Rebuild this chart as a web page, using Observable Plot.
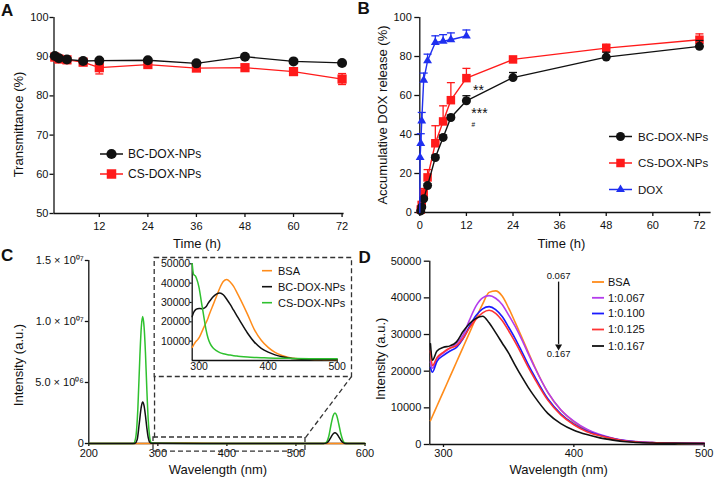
<!DOCTYPE html>
<html><head><meta charset="utf-8">
<script src="https://cdn.jsdelivr.net/npm/d3@7"></script>
<script src="https://cdn.jsdelivr.net/npm/@observablehq/plot@0.6"></script>
<style>
body{margin:0;background:#fff;}
#fig{position:relative;width:714px;height:483px;overflow:hidden;font-family:"Liberation Sans",Arial,Helvetica,sans-serif;color:#111;background:#fff;}
.panel{position:absolute;}
.panel svg{overflow:visible;}
.letter{position:absolute;font-weight:bold;font-size:17px;line-height:1;}
</style></head><body><div id="fig"></div>
<script>
// ---------- Panel A: transmittance ----------
const aTime = [1, 2, 4, 8, 12, 24, 36, 48, 60, 72];
const aBC = [90.2, 89.6, 89.3, 88.9, 89.0, 89.1, 88.3, 90.0, 88.8, 88.4];
const aBCerr = [0.3, 0.3, 0.3, 0.4, 0.4, 0.3, 0.4, 0.4, 0.4, 0.4];
const aCS = [89.9, 89.4, 89.2, 88.6, 87.2, 88.0, 87.1, 87.2, 86.2, 84.3];
const aCSerr = [0.5, 0.4, 0.4, 0.5, 1.6, 0.6, 0.5, 0.8, 0.9, 1.4];
const aYTicks = [50, 60, 70, 80, 90, 100];
const aXTicks = [12, 24, 36, 48, 60, 72];
const aLegend = ["BC-DOX-NPs", "CS-DOX-NPs"];

// ---------- Panel B: DOX release ----------
const bTime = [0.25, 0.5, 1, 2, 4, 6, 8, 12, 24, 48, 72];
const bBC = [0.8, 2.8, 7.0, 13.8, 28.2, 38.5, 48.7, 57.3, 69.2, 79.7, 85.2];
const bBCerr = [0.3, 0.5, 0.8, 1.0, 1.2, 1.2, 1.2, 2.6, 2.6, 2.5, 3.0];
const bCS = [1.5, 3.9, 9.8, 18.0, 35.5, 46.7, 57.6, 68.9, 78.5, 84.3, 88.6];
const bCSerr = [0.8, 1.5, 2.5, 4.0, 9.0, 8.0, 9.0, 5.0, 1.0, 2.0, 3.0];
const bDoxTime = [0, 0.083, 0.25, 0.5, 1, 2, 4, 6, 8, 12];
const bDox = [0, 28.2, 35.4, 47.0, 67.9, 77.8, 87.2, 87.8, 88.6, 90.5];
const bDoxErr = [0, 0, 5.0, 4.3, 3.6, 3.4, 3.4, 3.4, 3.5, 3.1];
const bYTicks = [0, 20, 40, 60, 80, 100];
const bXTicks = [0, 12, 24, 36, 48, 60, 72];
const bLegend = ["BC-DOX-NPs", "CS-DOX-NPs", "DOX"];
const bSigLabels = ["**", "***", "#"];

// ---------- Panel C: full spectra ----------
const cGreenWl = [200, 262, 265, 268, 271, 274, 276, 278, 280, 282, 284, 286, 288, 290, 293, 300, 400, 535, 540, 544, 548, 551, 554, 556.5, 559, 562, 565, 568, 571, 575, 600];
const cGreen = [0, 0, 0.02e6, 0.5e6, 2.8e6, 7.2e6, 9.5e6, 10.4e6, 9.6e6, 7.5e6, 4.5e6, 2.0e6, 0.6e6, 0.1e6, 0.04e6, 0.03e6, 0.002e6, 0.002e6, 0.005e6, 0.1e6, 0.7e6, 1.6e6, 2.3e6, 2.5e6, 2.3e6, 1.6e6, 0.8e6, 0.25e6, 0.04e6, 0, 0];
const cBlackWl = [200, 264, 267, 270, 273, 276, 278, 280, 282, 284, 286, 288, 290, 300, 400, 540, 544, 548, 551, 554, 556.5, 559, 562, 565, 568, 571, 575, 600];
const cBlack = [0, 0, 0.02e6, 0.3e6, 1.6e6, 3.0e6, 3.4e6, 3.1e6, 2.3e6, 1.3e6, 0.5e6, 0.12e6, 0.03e6, 0.027e6, 0.004e6, 0.001e6, 0.03e6, 0.25e6, 0.55e6, 0.8e6, 0.88e6, 0.8e6, 0.55e6, 0.27e6, 0.08e6, 0.01e6, 0, 0];
const cOrangeWl = [200, 280, 340, 400, 560, 600];
const cOrange = [0, 0.005e6, 0.04e6, 0.006e6, 0.002e6, 0];
const cYTicks = [0, 5e6, 1e7, 1.5e7];
const cYTickLabels = ["0", "5.0 × 10⁰⁶", "1.0 × 10⁰⁷", "1.5 × 10⁰⁷"];
const cXTicks = [200, 300, 400, 500, 600];
// zoomed region marker (nm, a.u.) and the corners of the inset it maps to
const cZoomBox = [{x1: 293.7, x2: 513.8, y1: -6.6e5, y2: 4.9e5}];
const cConnectors = [
  {x1: 295.2, y1: 4.9e5, x2: 295.2, y2: 5.49e6},
  {x1: 513.8, y1: 4.9e5, x2: 580.4, y2: 5.49e6}
];

// ---------- Panel C inset ----------
const iWl = [290, 292, 295, 298, 300, 303, 306, 310, 313, 316, 320, 325, 330, 335, 340, 345, 350, 355, 360, 370, 380, 390, 400, 410, 420, 430, 440, 460, 480, 500];
const iBSA = [6800, 8000, 9700, 10800, 11800, 14000, 16500, 19500, 22000, 25000, 28500, 33000, 37500, 40800, 41900, 40600, 38300, 35000, 31500, 24000, 16000, 10500, 6800, 4200, 2600, 1600, 1000, 600, 450, 400];
const iBC = [22700, 24800, 26300, 26800, 26900, 26800, 26900, 27800, 29500, 31000, 32800, 34300, 34900, 34000, 31700, 29000, 26000, 23000, 20000, 14200, 9500, 6300, 4300, 2900, 1900, 1300, 900, 550, 450, 400];
const iCS = [50000, 44500, 43500, 40500, 37500, 31000, 24500, 16000, 11500, 8700, 6600, 5100, 4100, 3500, 3100, 2800, 2500, 2300, 2100, 1800, 1600, 1450, 1300, 1200, 1150, 1100, 1050, 950, 900, 850];
const iYTicks = [10000, 20000, 30000, 40000, 50000];
const iXTicks = [300, 400, 500];
const iLegend = ["BSA", "BC-DOX-NPs", "CS-DOX-NPs"];

// ---------- Panel D: titration spectra ----------
const dWl = [290, 291.5, 295, 300, 305, 310, 315, 320, 325, 330, 335, 340, 345, 350, 355, 360, 365, 370, 380, 390, 400, 410, 420, 430, 440, 460, 480, 500];
const dBSA = [6500, 7700, 10500, 14500, 18500, 22500, 26500, 30500, 34500, 38300, 41500, 41900, 40500, 37200, 33300, 29300, 25200, 21200, 14200, 9400, 6200, 4000, 2500, 1500, 900, 450, 320, 280];
const d067 = [22500, 20800, 23300, 25000, 26300, 27500, 29800, 34000, 37800, 40000, 40600, 39900, 38200, 35300, 32200, 28700, 24800, 21000, 14300, 9500, 6400, 4200, 2700, 1700, 1050, 520, 360, 300];
const d100 = [21000, 19700, 22700, 24300, 25500, 26500, 28800, 32300, 35200, 37000, 37600, 36800, 34900, 32000, 28900, 25400, 21800, 18500, 12500, 8400, 5600, 3700, 2500, 1600, 1000, 500, 350, 300];
const d125 = [25500, 21500, 23700, 25200, 26300, 27000, 29000, 31800, 34200, 35900, 36600, 35800, 33800, 31000, 27900, 24600, 21100, 17900, 12100, 8100, 5400, 3500, 2400, 1600, 950, 500, 350, 300];
const d167 = [27500, 23000, 25500, 26500, 26900, 28000, 30800, 33000, 34400, 35000, 33200, 30500, 27700, 24900, 21600, 18500, 15600, 13000, 8500, 5700, 3900, 2700, 1800, 1200, 750, 400, 300, 280];
const dYTicks = [0, 10000, 20000, 30000, 40000, 50000];
const dXTicks = [300, 400, 500];
const dLegend = ["BSA", "1:0.067", "1:0.100", "1:0.125", "1:0.167"];
const dArrow = [{x: 388.3, from: 44300, to: 27300}];
const dArrowLabels = ["0.067", "0.167"];

// ---------- styling ----------
const FONT = '"Liberation Sans", Arial, Helvetica, sans-serif';
const INK = "#111";
const RED = "#ff1a1a";
const BLUE = "#1f2ff0";
const ORANGE = "#ff8c1a";
const GREEN = "#2fc12f";
const PURPLE = "#b43cec";
const DRED = "#ff3333";
const DBLUE = "#1a1aff";
const baseStyle = {fontFamily: FONT, fontSize: "11px", color: INK, background: "transparent", overflow: "visible"};
const fig = document.getElementById("fig");
function place(node, left, top) {
  const d = document.createElement("div");
  d.className = "panel"; d.style.left = left + "px"; d.style.top = top + "px";
  d.appendChild(node); fig.appendChild(d);
}
const capSym = w => ({draw(ctx) { ctx.moveTo(-w / 2, 0); ctx.lineTo(w / 2, 0); }});
const rows = (t, v, e) => t.map((x, i) => ({t: x, v: v[i], e: e ? e[i] : 0}));
const spec = (w, v) => w.map((x, i) => ({w: x, v: v[i]}));
const xTitle = (s, dy, dx) => Plot.text([s], {text: d => d, frameAnchor: "bottom", textAnchor: "middle", lineAnchor: "middle", dy, dx, fontSize: 13});
const yTitle = (s, dx, dy) => Plot.text([s], {text: d => d, frameAnchor: "left", textAnchor: "middle", lineAnchor: "middle", dx, dy, rotate: -90, fontSize: 13});

// ---------- A ----------
const aBCRows = rows(aTime, aBC, aBCerr), aCSRows = rows(aTime, aCS, aCSerr);
place(Plot.plot({
  width: 357, height: 240, marginLeft: 53.5, marginRight: 13.4, marginTop: 17, marginBottom: 27,
  x: {domain: [0.8, 72.5]}, y: {domain: [50, 100]}, style: baseStyle,
  marks: [
    Plot.ruleX([0.8], {stroke: INK, strokeWidth: 1.3}),
    Plot.ruleY([50], {stroke: INK, strokeWidth: 1.3}),
    Plot.axisY({ticks: aYTicks, tickSize: 4, tickPadding: 1.5, strokeWidth: 1.3, label: null, fontSize: 11}),
    Plot.axisX({ticks: aXTicks, tickSize: 4, tickPadding: 5, strokeWidth: 1.3, label: null, fontSize: 11}),
    Plot.line(aCSRows, {x: "t", y: "v", stroke: RED, strokeWidth: 1.3}),
    Plot.ruleX(aCSRows, {x: "t", y1: d => d.v - d.e, y2: d => d.v + d.e, stroke: RED, strokeWidth: 1.3}),
    Plot.dot(aCSRows, {x: "t", y: d => d.v - d.e, symbol: capSym(8), stroke: RED, strokeWidth: 1.3}),
    Plot.dot(aCSRows, {x: "t", y: d => d.v + d.e, symbol: capSym(8), stroke: RED, strokeWidth: 1.3}),
    Plot.dot(aCSRows, {x: "t", y: "v", symbol: "square", r: 5.2, fill: RED}),
    Plot.line(aBCRows, {x: "t", y: "v", stroke: INK, strokeWidth: 1.3}),
    Plot.dot(aBCRows, {x: "t", y: "v", r: 5, fill: INK}),
    xTitle("Time (h)", 30, -2),
    yTitle("Transmittance (%)", -35.5, 9)
  ]
}), 0, 0);

// ---------- B ----------
const bBCRows = rows(bTime, bBC, bBCerr), bCSRows = rows(bTime, bCS, bCSerr), bDoxRows = rows(bDoxTime, bDox, bDoxErr);
function bSeries(data, color, symbol, r) {
  const e = data.filter(d => d.e > 0);
  return [
    Plot.line(data, {x: "t", y: "v", stroke: color, strokeWidth: 1.4}),
    Plot.ruleX(e, {x: "t", y1: "v", y2: d => d.v + d.e, stroke: color, strokeWidth: 1.3}),
    Plot.dot(e, {x: "t", y: d => d.v + d.e, symbol: capSym(8), stroke: color, strokeWidth: 1.3}),
    Plot.dot(data.filter(d => d.t > 0), {x: "t", y: "v", symbol, r, fill: color})
  ];
}
place(Plot.plot({
  width: 357, height: 240, marginLeft: 62.3, marginRight: 3.4, marginTop: 17, marginBottom: 28,
  x: {domain: [0, 75]}, y: {domain: [0, 100]}, style: baseStyle,
  marks: [
    Plot.ruleX([0], {stroke: INK, strokeWidth: 1.3}),
    Plot.ruleY([0], {stroke: INK, strokeWidth: 1.3}),
    Plot.axisY({ticks: bYTicks, tickSize: 5, tickPadding: 3, strokeWidth: 1.3, label: null, fontSize: 11}),
    Plot.axisX({ticks: bXTicks, tickSize: 4, tickPadding: 5, strokeWidth: 1.3, label: null, fontSize: 11}),
    ...bSeries(bCSRows, RED, "square", 4.8),
    ...bSeries(bBCRows, INK, "circle", 4.5),
    ...bSeries(bDoxRows, BLUE, "triangle", 3.3),
    Plot.text([{t: 12, v: bCS[7]}], {x: "t", y: "v", text: () => bSigLabels[0], dx: 12, dy: 12, fontSize: 14}),
    Plot.text([{t: 12, v: bBC[7]}], {x: "t", y: "v", text: () => bSigLabels[1], dx: 13, dy: 13, fontSize: 14}),
    Plot.text([{t: 12, v: bBC[7]}], {x: "t", y: "v", text: () => bSigLabels[2], dx: 7, dy: 24, fontSize: 6.5}),
    xTitle("Time (h)", 31, -4),
    yTitle("Accumulative DOX release (%)", -37, 0)
  ]
}), 357, 0);

// ---------- C main ----------
const dash = {stroke: "#333", strokeWidth: 1.3, strokeDasharray: "5,3"};
place(Plot.plot({
  width: 380, height: 243, marginLeft: 88.3, marginRight: 15.5, marginTop: 20, marginBottom: 40,
  x: {domain: [200, 600]}, y: {domain: [0, 1.5e7]}, style: baseStyle,
  marks: [
    Plot.ruleX([200], {stroke: INK, strokeWidth: 1.3}),
    Plot.ruleY([0], {stroke: INK, strokeWidth: 1.3}),
    Plot.axisY({ticks: cYTicks, tickFormat: d => cYTickLabels[cYTicks.indexOf(d)], tickSize: 3.5, tickPadding: 1.5, strokeWidth: 1.3, label: null, fontSize: 11}),
    Plot.axisX({ticks: cXTicks, tickSize: 3, tickPadding: 3, strokeWidth: 1.3, label: null, fontSize: 11}),
    Plot.rect(cZoomBox, {x1: "x1", x2: "x2", y1: "y1", y2: "y2", fill: "none", ...dash}),
    Plot.link(cConnectors, {x1: "x1", y1: "y1", x2: "x2", y2: "y2", ...dash}),
    Plot.line(spec(cOrangeWl, cOrange), {x: "w", y: "v", stroke: ORANGE, strokeWidth: 1.5}),
    Plot.line(spec(cGreenWl, cGreen), {x: "w", y: "v", stroke: GREEN, strokeWidth: 1.5, curve: "monotone-x"}),
    Plot.line(spec(cBlackWl, cBlack), {x: "w", y: "v", stroke: INK, strokeWidth: 1.5, curve: "monotone-x"}),
    xTitle("Wavelength (nm)", 26, -9),
    yTitle("Intensity (a.u.)", -70, 13)
  ]
}), 0, 240);

// ---------- C inset ----------
place(Plot.plot({
  width: 205, height: 120, marginLeft: 41.7, marginRight: 18.3, marginTop: 8.3, marginBottom: 15,
  x: {domain: [290, 500]}, y: {domain: [0, 50000]}, style: {...baseStyle, fontSize: "10.5px"},
  marks: [
    Plot.frame({...dash, insetLeft: -38, insetRight: -14.3, insetTop: -6.3, insetBottom: -16}),
    Plot.ruleX([290], {stroke: INK, strokeWidth: 1.3}),
    Plot.ruleY([0], {stroke: INK, strokeWidth: 1.3}),
    Plot.axisY({ticks: iYTicks, tickFormat: d => String(d), tickSize: 2, tickPadding: 0, strokeWidth: 1.2, label: null, fontSize: 10.5}),
    Plot.axisX({ticks: iXTicks, tickSize: 2, tickPadding: 0, strokeWidth: 1.2, label: null, fontSize: 10.5}),
    Plot.line(spec(iWl, iBSA), {x: "w", y: "v", stroke: ORANGE, strokeWidth: 1.5, curve: "monotone-x"}),
    Plot.line(spec(iWl, iBC), {x: "w", y: "v", stroke: INK, strokeWidth: 1.5, curve: "monotone-x"}),
    Plot.line(spec(iWl, iCS), {x: "w", y: "v", stroke: GREEN, strokeWidth: 1.5, curve: "monotone-x"})
  ]
}), 150, 255);

// ---------- D ----------
const dSeries = [[dBSA, ORANGE], [d067, PURPLE], [d100, DBLUE], [d125, DRED], [d167, INK]];
place(Plot.plot({
  width: 357, height: 243, marginLeft: 72.3, marginRight: 9, marginTop: 20.7, marginBottom: 39,
  x: {domain: [289.5, 501]}, y: {domain: [0, 50000]}, style: baseStyle,
  marks: [
    Plot.ruleX([289.5], {stroke: INK, strokeWidth: 1.3}),
    Plot.ruleY([0], {stroke: INK, strokeWidth: 1.3}),
    Plot.axisY({ticks: dYTicks, tickFormat: d => String(d), tickSize: 5.5, tickPadding: 3, strokeWidth: 1.3, label: null, fontSize: 11}),
    Plot.axisX({ticks: dXTicks, tickSize: 3, tickPadding: 1.5, strokeWidth: 1.3, label: null, fontSize: 11}),
    ...dSeries.map(([v, c]) => Plot.line(spec(dWl, v), {x: "w", y: "v", stroke: c, strokeWidth: 1.6, curve: "monotone-x"})),
    Plot.ruleX(dArrow, {x: "x", y1: "from", y2: "to", stroke: INK, strokeWidth: 1.3}),
    Plot.dot(dArrow, {x: "x", y: "to", symbol: "triangle", rotate: 180, r: 2.6, fill: INK, dy: 2}),
    Plot.text(dArrow, {x: "x", y: "from", text: () => dArrowLabels[0], dy: -6, fontSize: 9.5}),
    Plot.text(dArrow, {x: "x", y: "to", text: () => dArrowLabels[1], dy: 10, fontSize: 9.5}),
    xTitle("Wavelength (nm)", 25, -9),
    yTitle("Intensity (a.u.)", -49, 6)
  ]
}), 357, 240);

// ---------- legends (overlay) ----------
const ov = d3.select(fig).append("svg").attr("width", 714).attr("height", 483)
  .style("position", "absolute").style("left", "0px").style("top", "0px").style("overflow", "visible")
  .style("font-family", FONT).style("pointer-events", "none");
const symTypes = {circle: d3.symbolCircle, square: d3.symbolSquare, triangle: d3.symbolTriangle};
function legend(labels, colors, symbols, cfg) {
  labels.forEach((lab, i) => {
    const y = cfg.ys[i];
    ov.append("line").attr("x1", cfg.x1).attr("x2", cfg.x2).attr("y1", y).attr("y2", y)
      .attr("stroke", colors[i]).attr("stroke-width", cfg.lw);
    if (symbols && symbols[i]) {
      ov.append("path").attr("d", d3.symbol(symTypes[symbols[i]], cfg.sizes[i])())
        .attr("transform", `translate(${(cfg.x1 + cfg.x2) / 2},${y})`).attr("fill", colors[i]);
    }
    ov.append("text").attr("x", cfg.tx).attr("y", y).attr("dy", "0.35em")
      .attr("font-size", cfg.fs).attr("fill", INK).text(lab);
  });
}
legend(aLegend, [INK, RED], ["circle", "square"], {x1: 100, x2: 123, ys: [154, 174], tx: 128, fs: 12, lw: 1.5, sizes: [82, 90]});
legend(bLegend, [INK, RED, BLUE], ["circle", "square", "triangle"], {x1: 609, x2: 632, ys: [136.5, 163, 189.5], tx: 638, fs: 11.5, lw: 1.5, sizes: [64, 72, 34]});
legend(iLegend, [ORANGE, INK, GREEN], null, {x1: 262, x2: 272, ys: [270.7, 286.7, 302.7], tx: 278, fs: 11, lw: 1.6});
legend(dLegend, [ORANGE, PURPLE, DBLUE, DRED, INK], null, {x1: 592, x2: 604, ys: [282, 297.8, 313.5, 329.5, 346], tx: 608, fs: 11, lw: 1.8});

// ---------- panel letters ----------
[["A", 1, 2], ["B", 357.5, 0], ["C", 1, 247], ["D", 358.5, 249]].forEach(([t, x, y]) => {
  const d = document.createElement("div"); d.className = "letter";
  d.style.left = x + "px"; d.style.top = y + "px"; d.textContent = t; fig.appendChild(d);
});
</script>
</body></html>
